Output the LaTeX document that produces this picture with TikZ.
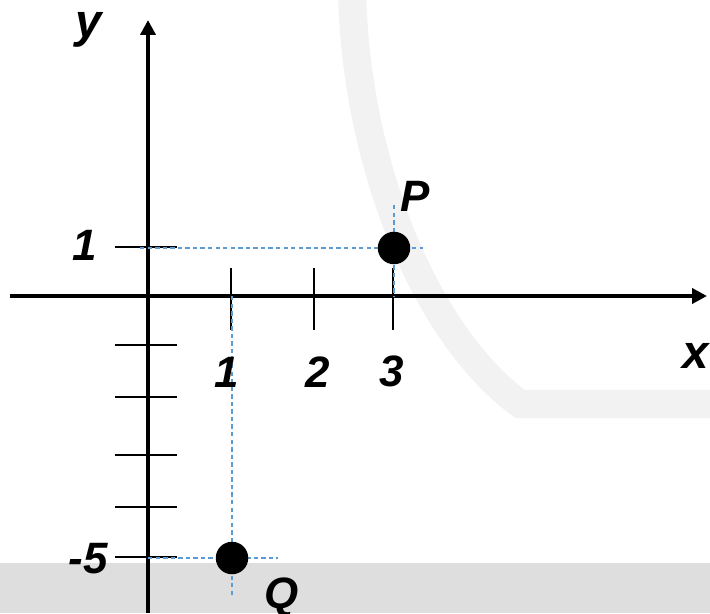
\documentclass[tikz,border=0pt]{standalone}
\usepackage{fontspec}
\setmainfont{Liberation Sans}
\usetikzlibrary{arrows.meta,positioning}
\definecolor{GuideBlue}{HTML}{5B9BD5}
\definecolor{MarkGray}{HTML}{F2F2F2}
\definecolor{BandGray}{HTML}{DEDEDE}

\begin{document}
\begin{tikzpicture}[x=0.02cm,y=-0.02cm]
    \tikzset{axisline/.style={line width=2.2pt,-{Triangle[length=8.5pt,width=8.5pt]}},
      tickmark/.style={line width=1.6pt},
      guideline/.style={GuideBlue,line width=0.6pt,dash pattern=on 2.5pt off 1.8pt},
      dotpoint/.style={circle,fill=black,inner sep=0pt,minimum size=18.5pt},
      numlabel/.style={inner sep=0pt,font=\fontsize{25}{30}\selectfont\bfseries\itshape},
      varlabel/.style={inner sep=0pt,font=\fontsize{27}{32}\selectfont\bfseries\itshape}}
    \useasboundingbox (0,0) rectangle (710,613);
    % background
    \fill[BandGray] (0,563) rectangle (710,613);
    \draw[MarkGray,line width=16pt] (352,-20) .. controls (352,150) and (420,330) .. (520,404) -- (730,404);
    % axes
    \coordinate (xstart) at (10,296);
    \coordinate (xend) at (707,296);
    \coordinate (ystart) at (148,613);
    \coordinate (yend) at (148,20);
    \draw[axisline] (xstart) -- (xend);
    \draw[axisline] (ystart) -- (yend);
    \foreach \tx in {231,314,393} \draw[tickmark] (\tx,268) -- (\tx,330);
    \foreach \ty in {247,345,397,455,507,557} \draw[tickmark] (115,\ty) -- (177,\ty);
    % guides
    \coordinate (Pleft) at (140,248);
    \coordinate (Pright) at (423,248);
    \coordinate (Ptop) at (394,205);
    \coordinate (Pfoot) at (394,296);
    \coordinate (Qleft) at (148,558);
    \coordinate (Qright) at (278,558);
    \coordinate (Qtop) at (232,296);
    \coordinate (Qfoot) at (232,597);
    \draw[guideline] (Pleft) -- (Pright);
    \draw[guideline] (Ptop) -- (Pfoot);
    \draw[guideline] (Qleft) -- (Qright);
    \draw[guideline] (Qtop) -- (Qfoot);
    \node[dotpoint] (P) at (394,248) {};
    \node[dotpoint] (Q) at (232,558) {};
    % labels
    \node[varlabel] (ylab) at (89,30) {y};
    \node[varlabel] (xlab) at (696,356) {x};
    \node[numlabel] (x1) at (227,372) {1};
    \node[numlabel] (x2) at (318,372) {2};
    \node[numlabel] (x3) at (392,371) {3};
    \node[numlabel] (y1) at (85,245) {1};
    \node[numlabel] (y5) at (88,559) {-5};
    \node[numlabel,above right=0.48cm and -0.12cm of P] (Plab) {P};
    \node[numlabel,below right=0.16cm and 0.4cm of Q] (Qlab) {Q};
  \end{tikzpicture}
\end{document}
